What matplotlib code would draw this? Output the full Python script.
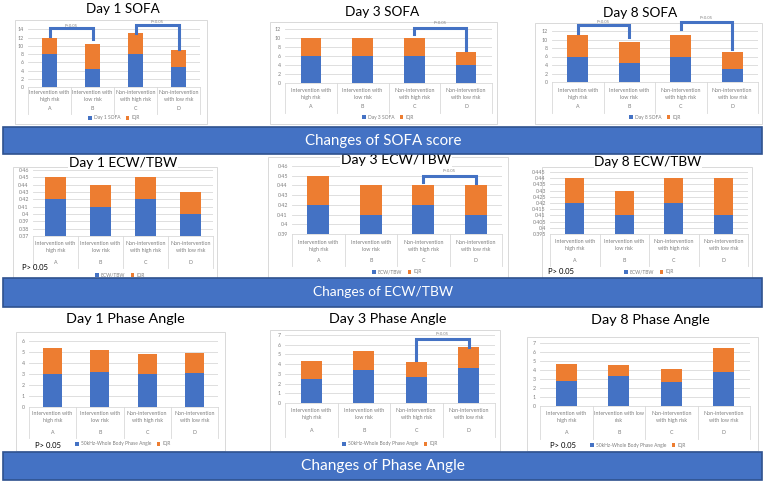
import matplotlib.pyplot as plt
import matplotlib.transforms as mtransforms
from matplotlib.patches import Rectangle
from matplotlib.lines import Line2D
import numpy as np

plt.rcParams['font.family'] = ['Lato', 'DejaVu Sans']

W, H = 766, 483
BLUE = '#4472C4'
ORANGE = '#ED7D31'
GRID = '#D9D9D9'
TXT = '#7F7F7F'

categories = ["Intervention with\nhigh risk", "Intervention with\nlow risk",
              "Non-intervention\nwith high risk", "Non-intervention\nwith low risk"]
categories_d8pa = ["Intervention with\nhigh risk", "Intervention with low\nrisk",
                   "Non-intervention\nwith high risk", "Non-intervention\nwith low risk"]
group_letters = ["A", "B", "C", "D"]

# SOFA score (median + IQR stacked)
sofa_d1_median = [8, 4.5, 8, 5]
sofa_d1_iqr = [4, 6, 5, 4]
sofa_d3_median = [6, 6, 6, 4]
sofa_d3_iqr = [4, 4, 4, 3]
sofa_d8_median = [6, 4.5, 6, 3]
sofa_d8_iqr = [5, 5, 5, 4]

# ECW/TBW
ecw_d1_median = [0.42, 0.41, 0.42, 0.40]
ecw_d1_iqr = [0.03, 0.03, 0.03, 0.03]
ecw_d3_median = [0.42, 0.41, 0.42, 0.41]
ecw_d3_iqr = [0.03, 0.03, 0.02, 0.03]
ecw_d8_median = [0.42, 0.41, 0.42, 0.41]
ecw_d8_iqr = [0.02, 0.02, 0.02, 0.03]

# 50kHz whole body phase angle
pa_d1_median = [3.0, 3.2, 3.0, 3.1]
pa_d1_iqr = [2.35, 2.0, 1.8, 1.8]
pa_d3_median = [2.45, 3.35, 2.65, 3.6]
pa_d3_iqr = [1.9, 2.05, 1.6, 2.2]
pa_d8_median = [2.8, 3.35, 2.7, 3.8]
pa_d8_iqr = [1.85, 1.15, 1.45, 2.65]

fig = plt.figure(figsize=(W / 100, H / 100), dpi=100)
fig.patch.set_facecolor('white')
renderer = fig.canvas.get_renderer()


def fx(x):
    return x / W


def fy(y):
    return 1 - y / H


def box(x0, y0, x1, y1, fc='white', ec=GRID, lw=0.7, z=-5):
    fig.add_artist(Rectangle((fx(x0), fy(y1)), (x1 - x0) / W, (y1 - y0) / H,
                             transform=fig.transFigure, facecolor=fc,
                             edgecolor=ec, lw=lw, zorder=z))


def fitted_text(x, y, s, width_px, **kw):
    # size the text so it spans about the same width as in the source image
    t = fig.text(fx(x), fy(y), s, fontsize=10, ha='center', va='center', **kw)
    w = t.get_window_extent(renderer).width
    t.set_fontsize(10 * width_px / w)
    return t


def panel(area, ylim, step, median, iqr, series, title, title_xy, title_w, frame_box,
          label_y, letter_y, legend_xy, bar_w, cats=categories, brackets=(),
          p_xy=None):
    x0, x1, yt, yb = area
    box(*frame_box)
    fitted_text(title_xy[0], title_xy[1], title, title_w, color='black',
                bbox=dict(fc='white', ec='none', pad=0.5))
    ax = fig.add_axes([fx(x0), fy(yb), (x1 - x0) / W, (yb - yt) / H])
    ax.patch.set_visible(False)
    idx = np.arange(len(median))
    ax.bar(idx, median, bar_w, color=BLUE, label=series, zorder=2)
    ax.bar(idx, iqr, bar_w, bottom=median, color=ORANGE, label='IQR', zorder=2)
    ax.set_xlim(-0.5, len(median) - 0.5)
    ax.set_ylim(*ylim)
    ticks = np.arange(ylim[0], ylim[1] + step / 2, step)
    ax.set_yticks(ticks)
    ax.set_yticklabels([f'{round(t, 4):g}' for t in ticks])
    ax.set_xticks([])
    ax.yaxis.grid(True, color=GRID, lw=0.6)
    ax.set_axisbelow(True)
    for s in ['left', 'right', 'top']:
        ax.spines[s].set_visible(False)
    ax.spines['bottom'].set_color(GRID)
    ax.spines['bottom'].set_linewidth(0.6)
    ax.tick_params(axis='y', length=0, labelsize=3.8, labelcolor=TXT, pad=3)

    tr = mtransforms.blended_transform_factory(ax.transData, fig.transFigure)
    for i, c in enumerate(cats):
        ax.text(i, fy(label_y), c, transform=tr, ha='center', va='center',
                fontsize=3.8, color=TXT, linespacing=1.3)
        ax.text(i, fy(letter_y), group_letters[i], transform=tr, ha='center',
                va='center', fontsize=3.8, color=TXT)
    for b in np.arange(-0.5, len(median)):
        ax.add_line(Line2D([b, b], [fy(yb), fy(letter_y + 6)], transform=tr,
                           color=GRID, lw=0.6, clip_on=False))

    for i, j, top, left_end, right_end, text_y in brackets:
        ax.plot([i, i, j, j], [left_end, top, top, right_end], color=BLUE,
                lw=2.2, clip_on=False, solid_joinstyle='miter', zorder=3)
        ax.text((i + j) / 2, text_y, "P<0.05", ha='center', va='center',
                fontsize=3, color=TXT, clip_on=False)

    h, l = ax.get_legend_handles_labels()
    fig.legend(h, l, loc='center', bbox_to_anchor=(fx(legend_xy[0]), fy(legend_xy[1])),
               ncol=2, frameon=False, fontsize=3.5, handlelength=0.7,
               handleheight=0.7, columnspacing=1.2, handletextpad=0.4,
               borderpad=0, labelcolor=TXT)
    if p_xy is not None:
        fig.text(fx(p_xy[0]), fy(p_xy[1]), "P> 0.05", ha='left', va='center',
                 fontsize=5.5, color='black')
    return ax


# Row 1: SOFA
panel((28, 200, 29.3, 87.3), (0, 14), 2, sofa_d1_median, sofa_d1_iqr, "Day 1 SOFA",
      "Day 1 SOFA", (123, 9), 73, (15, 20, 207, 124), 96, 108, (114, 118), 0.37,
      brackets=[(0, 1, 14.2, 12.4, 11.6, 14.9), (2, 3, 15.0, 13.2, 9.3, 15.8)])
panel((285, 492, 29, 83), (0, 12), 2, sofa_d3_median, sofa_d3_iqr, "Day 3 SOFA",
      "Day 3 SOFA", (382, 12), 74, (270, 22, 497, 124), 94, 107, (388, 117), 0.4,
      brackets=[(2, 3, 12.2, 11.0, 7.3, 13.4)])
panel((552, 758, 31, 82), (0, 12), 2, sofa_d8_median, sofa_d8_iqr, "Day 8 SOFA",
      "Day 8 SOFA", (640, 13), 74, (535, 23, 762, 124), 94, 107, (655, 117), 0.4,
      brackets=[(0, 1, 13.5, 11.5, 10.7, 14.1), (2, 3, 14.2, 12.5, 7.7, 15.0)])

# Row 2: ECW/TBW
panel((33, 213, 170, 236), (0.37, 0.46), 0.01, ecw_d1_median, ecw_d1_iqr, "ECW/TBW",
      "Day 1 ECW/TBW", (123, 163), 108, (13, 167, 217, 278), 247, 262, (120, 275), 0.45,
      p_xy=(22, 268))
panel((292, 502, 166, 234), (0.39, 0.46), 0.01, ecw_d3_median, ecw_d3_iqr, "ECW/TBW",
      "Day 3 ECW/TBW", (396, 160), 110, (268, 157, 508, 278), 246, 260, (397, 272), 0.42,
      brackets=[(2, 3, 0.4497, 0.4432, 0.4422, 0.4549)])
panel((550, 748, 172, 234), (0.395, 0.445), 0.005, ecw_d8_median, ecw_d8_iqr, "ECW/TBW",
      "Day 8 ECW/TBW", (648, 162), 107, (542, 167, 752, 278), 245, 260, (649, 272), 0.39,
      p_xy=(548, 271))

# Row 3: Phase angle
panel((29, 218, 341, 407), (0, 6), 1, pa_d1_median, pa_d1_iqr,
      "50kHz-Whole Body Phase Angle", "Day 1 Phase Angle", (125, 319), 118,
      (16, 332, 225, 451), 417, 432, (123, 444), 0.4, p_xy=(35, 445))
panel((285, 495, 335, 403), (0, 7), 1, pa_d3_median, pa_d3_iqr,
      "50kHz-Whole Body Phase Angle", "Day 3 Phase Angle", (388, 319), 117,
      (270, 330, 500, 451), 414, 431, (390, 444), 0.4,
      brackets=[(2, 3, 6.56, 4.43, 5.8, 7.1)])
panel((540, 750, 343, 406), (0, 7), 1, pa_d8_median, pa_d8_iqr,
      "50kHz-Whole Body Phase Angle", "Day 8 Phase Angle", (650, 320), 118,
      (527, 337, 758, 451), 417, 433, (638, 445), 0.4, cats=categories_d8pa,
      p_xy=(550, 445))

# Section banners
for (y0, y1, text, tw) in [(127, 154, "Changes of SOFA score", 156),
                           (278, 307, "Changes of ECW/TBW", 140),
                           (452, 480, "Changes of Phase Angle", 164)]:
    box(3, y0, 762, y1, fc=BLUE, ec='#2F528F', lw=1.2, z=5)
    t = fitted_text(383, (y0 + y1) / 2, text, tw, color='white')
    t.set_zorder(6)

fig.savefig('out.png', dpi=100)
